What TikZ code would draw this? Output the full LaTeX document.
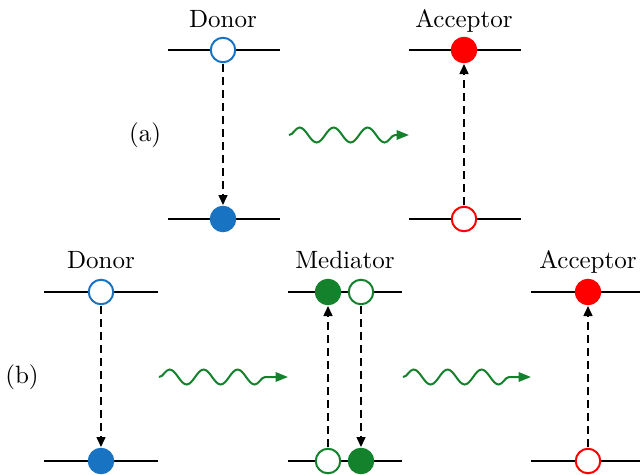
\documentclass[tikz,border=0pt]{standalone}
\usetikzlibrary{arrows.meta,decorations.pathmorphing}
\definecolor{cblue}{RGB}{25,115,195}
\definecolor{cgreen}{RGB}{20,130,45}
\definecolor{cred}{RGB}{255,0,0}
\begin{document}
\begin{tikzpicture}[x=0.4pt,y=-0.4pt,
  level/.style={line width=0.8pt},
  st/.style={circle,inner sep=0pt,minimum size=9.8pt,line width=0.8pt},
  open/.style={st,draw=#1,fill=white},
  full/.style={st,draw=#1,fill=#1},
  trans/.style={dashed,dash pattern=on 3.2pt off 2pt,line width=0.6pt,-{Triangle[length=4pt,width=3.6pt]},shorten >=0.3pt,shorten <=0.3pt},
  wave/.style={cgreen,line width=0.8pt,decorate,decoration={snake,segment length=13.6pt,amplitude=3pt,post length=5pt},-{Triangle[length=5pt,width=3.8pt]}},
  lab/.style={anchor=base,inner sep=0pt}
]
\useasboundingbox (0,0) rectangle (640,474);
% (a)
\node[lab] (tDa) at (223,27) {Donor};
\node[lab] (tAa) at (464,27) {Acceptor};
\node (la) at (145,135) {(a)};
\draw[level] (168,50) -- (280,50);
\draw[level] (168,219) -- (280,219);
\draw[level] (409,50) -- (521,50);
\draw[level] (409,219) -- (521,219);
\node[open=cblue] (Da1) at (223,50) {};
\node[full=cblue] (Da0) at (223,219) {};
\node[full=cred] (Aa1) at (464,50) {};
\node[open=cred] (Aa0) at (464,219) {};
\draw[trans] (Da1) -- (Da0);
\draw[trans] (Aa0) -- (Aa1);
\coordinate (wa1) at (289,135);
\coordinate (wa2) at (409,135);
\draw[wave] (wa1) -- (wa2);
% (b)
\node[lab] (tDb) at (101,268) {Donor};
\node[lab] (tMb) at (345,268) {Mediator};
\node[lab] (tAb) at (588,268) {Acceptor};
\node (lb) at (22,377) {(b)};
\draw[level] (44,292) -- (158,292);
\draw[level] (44,461) -- (158,461);
\draw[level] (288,292) -- (402,292);
\draw[level] (288,461) -- (402,461);
\draw[level] (531,292) -- (645,292);
\draw[level] (531,461) -- (645,461);
\node[open=cblue] (Db1) at (101,292) {};
\node[full=cblue] (Db0) at (101,461) {};
\node[full=cgreen] (Mb1) at (328,292) {};
\node[open=cgreen] (Mb2) at (361,292) {};
\node[open=cgreen] (Mb0) at (328,461) {};
\node[full=cgreen] (Mb3) at (361,461) {};
\node[full=cred] (Ab1) at (588,292) {};
\node[open=cred] (Ab0) at (588,461) {};
\draw[trans] (Db1) -- (Db0);
\draw[trans] (Mb0) -- (Mb1);
\draw[trans] (Mb2) -- (Mb3);
\draw[trans] (Ab0) -- (Ab1);
\coordinate (wb1) at (159,377);
\coordinate (wb2) at (288,377);
\coordinate (wb3) at (403,377);
\coordinate (wb4) at (531,377);
\draw[wave] (wb1) -- (wb2);
\draw[wave] (wb3) -- (wb4);
\end{tikzpicture}
\end{document}
